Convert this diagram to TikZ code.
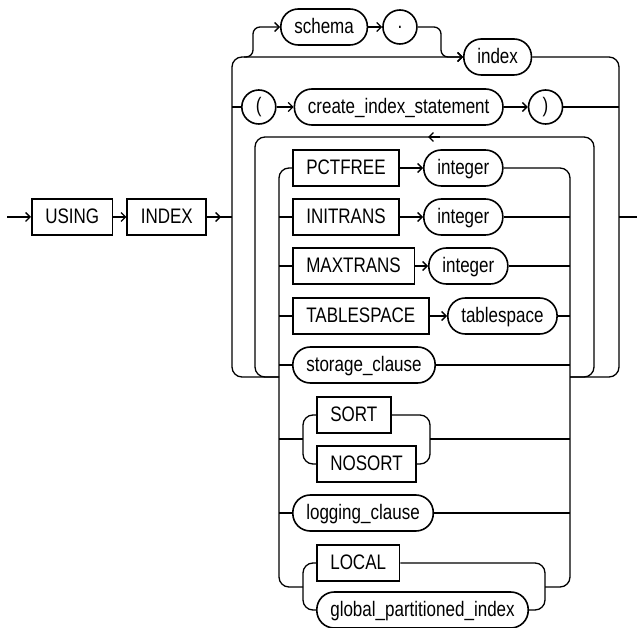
\documentclass[tikz,border=0pt]{standalone}
\usepackage{fontspec}
\setmainfont{Liberation Sans}[FakeStretch=0.81]
\usepackage{tikz}
\usetikzlibrary{positioning, arrows.meta, calc}

\begin{document}
\begin{tikzpicture}[
                x=1pt, y=-1pt,
                kwbox/.style={draw=black, line width=1.6pt, rectangle, minimum height=36pt, inner xsep=13.5pt, text height=15.5pt, text depth=3pt, font=\fontsize{21}{25}\selectfont},
                varpill/.style={draw=black, line width=1.6pt, rectangle, rounded corners=17.5pt, minimum height=36pt, inner xsep=13.5pt, text height=15.5pt, text depth=3pt, font=\fontsize{21}{25}\selectfont},
                symcircle/.style={draw=black, line width=1.6pt, circle, minimum size=34pt, inner sep=0pt, font=\fontsize{21}{25}\selectfont},
                rail/.style={line width=1.3pt},
                flow/.style={rail, -{Straight Barb[length=4.5pt, width=9pt]}}
            ]
            \useasboundingbox (0,0) rectangle (637,628);

            % Schienen und Zeilen
            \coordinate (start) at (7,217);
            \coordinate (exit) at (637,217);
            \coordinate (outL) at (232,0);
            \coordinate (loopL) at (255,0);
            \coordinate (inL) at (279,0);
            \coordinate (inR) at (570,0);
            \coordinate (loopR) at (594,0);
            \coordinate (outR) at (619,0);
            \coordinate (sortL) at (303,0);
            \coordinate (sortR) at (430,0);
            \coordinate (locL) at (303,0);
            \coordinate (locR) at (545,0);
            \coordinate (schin) at (244,57);
            \coordinate (schup) at (253,0);
            \coordinate (dotdn) at (441,0);
            \coordinate (looptop) at (0,137);
            \coordinate (back) at (428,137);
            \coordinate (join) at (0,377);
            \coordinate (sortmain) at (0,439);
            \coordinate (locmain) at (0,587);

            % Knoten
            \node[kwbox, anchor=west] (using) at (31,217) {USING};
            \node[kwbox, right=13pt of using] (indexkw) {INDEX};
            \node[varpill, anchor=west] (schema) at (280,27) {schema};
            \node[symcircle, right=14pt of schema] (dot) {.};
            \node[varpill, anchor=west] (idx) at (463,57) {index};
            \node[symcircle, anchor=west] (lpar) at (241,107) {(};
            \node[varpill, right=17pt of lpar] (cis) {create\_index\_statement};
            \node[symcircle, right=24pt of cis] (rpar) {)};
            \node[kwbox, anchor=west] (pctfree) at (292,168) {PCTFREE};
            \node[varpill, anchor=west] (pctint) at (423,168) {integer};
            \node[kwbox, anchor=west] (initrans) at (292,217) {INITRANS};
            \node[varpill, anchor=west] (initint) at (423,217) {integer};
            \node[kwbox, anchor=west] (maxtrans) at (292,266) {MAXTRANS};
            \node[varpill, anchor=west] (maxint) at (428,266) {integer};
            \node[kwbox, anchor=west] (tblsp) at (292,316) {TABLESPACE};
            \node[varpill, anchor=west] (tblspval) at (447,316) {tablespace};
            \node[varpill, anchor=west] (storage) at (292,365) {storage\_clause};
            \node[kwbox, anchor=west] (sort) at (316,415) {SORT};
            \node[kwbox, anchor=west] (nosort) at (316,464) {NOSORT};
            \node[varpill, anchor=west] (logging) at (292,513) {logging\_clause};
            \node[kwbox, anchor=west] (local) at (316,563) {LOCAL};
            \node[varpill, anchor=west] (glob) at (316,610) {global\_partitioned\_index};

            % Hauptpfad
            \draw[flow] (start) -- (using);
            \draw[flow] (using) -- (indexkw);
            \draw[rail] (indexkw.east) -- (indexkw.east -| outL);
            \draw[flow] (indexkw.east) -- ++(14,0);
            \draw[rail] (outR |- exit) -- (exit);

            % aeussere Auswahl
            \draw[flow, rounded corners=10pt] (inL |- join) -| (outL |- idx.west) -- (idx.west);
            \draw[rail, rounded corners=10pt] (idx.east) -| (outR |- join) -- (inR |- join);
            \draw[flow, rounded corners=7pt] (schin) -| (schup |- schema.west) -- (schema.west);
            \draw[flow] (schema) -- (dot);
            \draw[flow, rounded corners=7pt] (dot.east) -| (dotdn |- idx.west) -- (idx.west);
            \draw[rail] (lpar.west -| outL) -- (lpar.west);
            \draw[flow] (lpar) -- (cis);
            \draw[flow] (cis) -- (rpar);
            \draw[rail] (rpar.east) -- (rpar.east -| outR);

            % Schleife
            \draw[rail, rounded corners=10pt] (inL |- join) -| (loopL |- looptop) -| (loopR |- join) -- (inR |- join);
            \draw[flow] ([xshift=12pt]back) -- (back);

            % innere Auswahl
            \draw[rail, rounded corners=10pt] (pctfree.west) -| (inL |- locmain) -- (locL |- locmain);
            \draw[rail, rounded corners=10pt] (pctint.east) -| (inR |- locmain) -- (locR |- locmain);
            \draw[flow] (pctfree) -- (pctint);
            \draw[rail] (initrans.west -| inL) -- (initrans.west);
            \draw[flow] (initrans) -- (initint);
            \draw[rail] (initint.east) -- (initint.east -| inR);
            \draw[rail] (maxtrans.west -| inL) -- (maxtrans.west);
            \draw[flow] (maxtrans) -- (maxint);
            \draw[rail] (maxint.east) -- (maxint.east -| inR);
            \draw[rail] (tblsp.west -| inL) -- (tblsp.west);
            \draw[flow] (tblsp) -- (tblspval);
            \draw[rail] (tblspval.east) -- (tblspval.east -| inR);
            \draw[rail] (storage.west -| inL) -- (storage.west);
            \draw[rail] (storage.east) -- (storage.east -| inR);
            \draw[rail] (inL |- sortmain) -- (sortL |- sortmain);
            \draw[rail, rounded corners=10pt] (sort.west) -| (sortL |- nosort.west) -- (nosort.west);
            \draw[rail, rounded corners=10pt] (sort.east) -| (sortR |- nosort.east) -- (nosort.east);
            \draw[rail] (sortR |- sortmain) -- (inR |- sortmain);
            \draw[rail] (logging.west -| inL) -- (logging.west);
            \draw[rail] (logging.east) -- (logging.east -| inR);
            \draw[rail, rounded corners=10pt] (local.west) -| (locL |- glob.west) -- (glob.west);
            \draw[rail, rounded corners=10pt] (local.east) -| (locR |- glob.east) -- (glob.east);

        \end{tikzpicture}
\end{document}
